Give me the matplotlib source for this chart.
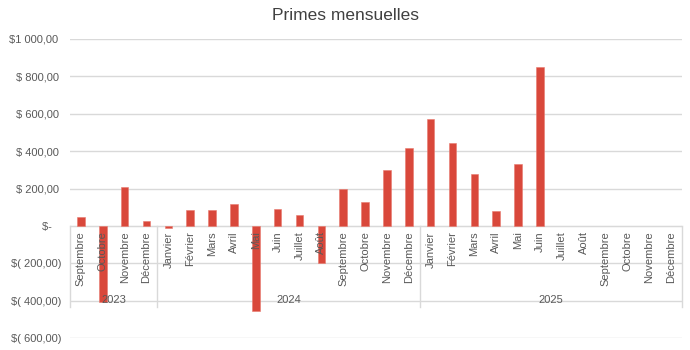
import matplotlib
matplotlib.use("Agg")
import matplotlib.pyplot as plt
import numpy as np

plt.rcParams['font.family'] = ['Liberation Sans', 'DejaVu Sans']

# Monthly bonuses, Sept 2023 - Dec 2025 (None = no value yet)
years = ["2023", "2024", "2025"]
months_2023 = ["Septembre", "Octobre", "Novembre", "Décembre"]
months_full = ["Janvier", "Février", "Mars", "Avril", "Mai", "Juin", "Juillet",
               "Août", "Septembre", "Octobre", "Novembre", "Décembre"]
primes_2023 = [45, -405, 210, 28]
primes_2024 = [-10, 86, 84, 116, -458, 91, 59, -200, 196, 128, 299, 417]
primes_2025 = [572, 444, 276, 77, 331, 848, None, None, None, None, None, None]

y_ticks = [-600, -400, -200, 0, 200, 400, 600, 800, 1000]
y_labels = ["$( 600,00)", "$( 400,00)", "$( 200,00)", "$-   ", "$ 200,00 ",
            "$ 400,00 ", "$ 600,00 ", "$ 800,00 ", "$1 000,00 "]

labels = months_2023 + months_full + months_full
values = primes_2023 + primes_2024 + primes_2025
groups = [len(months_2023), len(months_full), len(months_full)]

x = np.arange(len(labels))
heights = [np.nan if v is None else v for v in values]

text_col = "#595959"
grid_col = "#d9d9d9"
bar_col = "#d9483b"

fig = plt.figure(figsize=(6.9, 3.5), dpi=100)
ax = fig.add_axes([70 / 690, 1 - 338 / 350, 612 / 690, 299 / 350])

for t in y_ticks:
    ax.axhline(t, color=grid_col, lw=1.0, zorder=1)

ax.bar(x, heights, width=0.34, color=bar_col, edgecolor="#e8796e", linewidth=0.4, zorder=2)

ax.set_xlim(-0.5, len(labels) - 0.5)
ax.set_ylim(-600, 1000)
ax.set_axisbelow(False)

ax.tick_params(axis="both", length=0, labelsize=8, labelcolor=text_col)
ax.tick_params(axis="x", pad=4, labelrotation=90)
ax.tick_params(axis="y", pad=6)
ax.set_yticks(y_ticks)
ax.set_yticklabels(y_labels)
ax.set_xticks(x)
ax.set_xticklabels(labels)
for lab in ax.get_xticklabels():
    lab.set_rotation(90)
    lab.set_ha("center")
    lab.set_va("top")

for s in ["top", "right", "left"]:
    ax.spines[s].set_visible(False)
ax.spines["bottom"].set_position(("data", 0))
ax.spines["bottom"].set_color(grid_col)
ax.spines["bottom"].set_zorder(1.5)

# Year group separators and labels
bounds = np.concatenate([[0], np.cumsum(groups)]) - 0.5
for b in bounds:
    ax.plot([b, b], [0, -433], color=grid_col, lw=1.0, zorder=1, clip_on=False)
for i, yr in enumerate(years):
    cx = (bounds[i] + bounds[i + 1]) / 2
    ax.text(cx, -396, yr, ha="center", va="center", fontsize=8, color=text_col, zorder=3)

fig.suptitle("Primes mensuelles", y=1 - 15 / 350, va="center", fontsize=12.5, color="#404040")

fig.savefig("out.png", dpi=100)
